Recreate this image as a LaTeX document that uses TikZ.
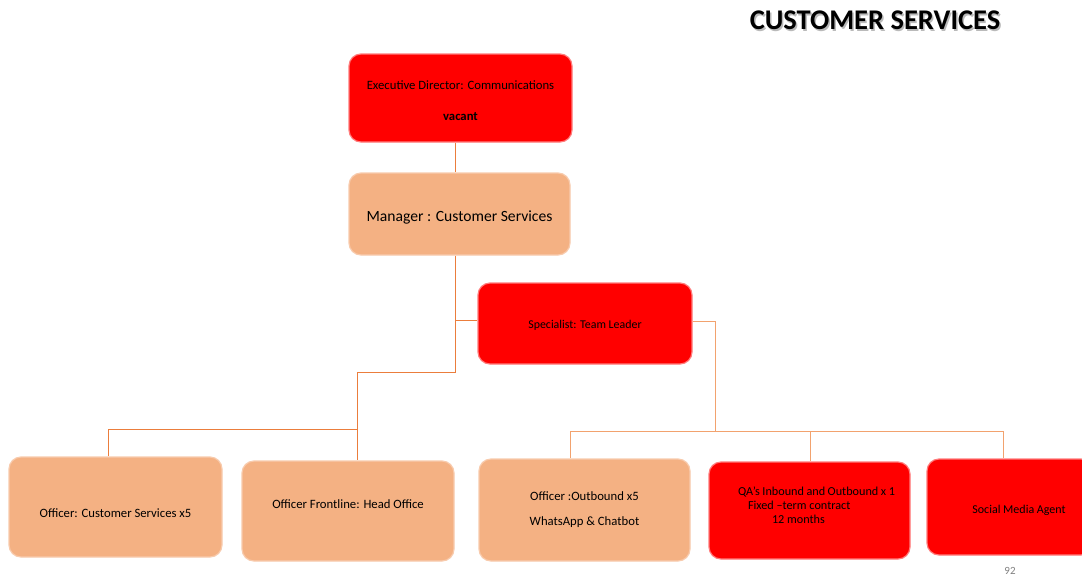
\documentclass[tikz,border=0pt]{standalone}
\usepackage{fontspec}
\setmainfont{Carlito}
\definecolor{boxred}{HTML}{FF0000}
\definecolor{peach}{HTML}{F4B183}
\definecolor{peachedge}{HTML}{F8CBAD}
\definecolor{rededge}{HTML}{FF7C7C}
\definecolor{lineA}{HTML}{EB7D3C}
\definecolor{lineB}{HTML}{F2A26E}
\newcommand{\shifttxt}[2]{\raisebox{#1}[0pt][0pt]{#2}}
\tikzset{
  box/.style={rounded corners=12pt, minimum width=#1, inner sep=0pt, align=center, text=black, line width=1.2pt},
  redbox/.style={box=#1, fill=boxred, draw=rededge},
  peachbox/.style={box=#1, fill=peach, draw=peachedge},
  connA/.style={draw=lineA, line width=0.9pt},
  connB/.style={draw=lineB, line width=0.9pt},
}
\begin{document}
\begin{tikzpicture}[x=1pt,y=-1pt]
\clip (0,0) rectangle (1082,579);
\fill[white] (0,0) rectangle (1082,579);
% title
\node[font=\fontsize{28.5}{30}\selectfont\bfseries, text=black!45, opacity=0.6] (titleshadow) at (876.5,22) {CUSTOMER SERVICES};
\node[font=\fontsize{28.5}{30}\selectfont\bfseries] (title) at (875,20.5) {CUSTOMER SERVICES};
% boxes
\node[redbox=223pt, minimum height=88pt, font=\fontsize{12.7}{15}\selectfont] (exec) at (460.5,98) {\shifttxt{-5.5pt}{\parbox{220pt}{\centering Executive Director: Communications\\[16pt]\textbf{vacant}}}};
\node[peachbox=221pt, minimum height=82pt, font=\fontsize{15.6}{18}\selectfont] (mgr) at (459.5,214) {\shifttxt{-7pt}{Manager : Customer Services}};
\node[redbox=214pt, minimum height=81pt, font=\fontsize{11.9}{14}\selectfont] (spec) at (585,323.5) {\shifttxt{-4.5pt}{Specialist: Team Leader}};
\node[peachbox=213pt, minimum height=100pt, font=\fontsize{12.7}{15}\selectfont] (ocs) at (115.5,507) {\shifttxt{-10pt}{Officer: Customer Services x5}};
\node[peachbox=212pt, minimum height=100pt, font=\fontsize{12.7}{15}\selectfont] (ofl) at (348,511) {\shifttxt{3pt}{Officer Frontline: Head Office}};
\node[peachbox=211pt, minimum height=102pt, font=\fontsize{12.7}{15}\selectfont] (oob) at (584.5,510) {Officer :Outbound x5\\[10pt]WhatsApp \& Chatbot};
\node[redbox=201pt, minimum height=97pt, font=\fontsize{12.2}{14}\selectfont, align=left] (qa) at (809.5,510.5) {\shifttxt{2pt}{\parbox{171pt}{\hspace*{14pt}QA's Inbound and Outbound x 1\\\hspace*{24pt}Fixed –term contract\\\hspace*{48pt}12 months}}};
\node[redbox=166pt, minimum height=96pt, font=\fontsize{12}{14}\selectfont] (sma) at (1010,507) {\shifttxt{-6pt}{\hspace*{18pt}Social Media Agent}};
% page number
\node[font=\fontsize{11}{12}\selectfont, text=black!50] (pgnum) at (1010,571) {92};
% connectors
\coordinate (jl) at (357,429);
\coordinate (jr) at (715,431);
\draw[connA] (exec.south -| 455,0) -- (mgr.north -| 455,0);
\draw[connA] (mgr.south -| 455,0) -- (455,372) -- (357,372) -- (jl);
\draw[connA] (455,320) -- (spec.west |- 455,320);
\draw[connA] (ocs.north -| 108,0) -- (108,429) -- (jl) -- (ofl.north -| 357,0);
\draw[connB] (spec.east |- 0,321) -- (715,321) -- (jr);
\draw[connB] (oob.north -| 570,0) -- (570,431) -- (1003,431) -- (sma.north -| 1003,0);
\draw[connB] (810,431) -- (qa.north -| 810,0);
\end{tikzpicture}
\end{document}
